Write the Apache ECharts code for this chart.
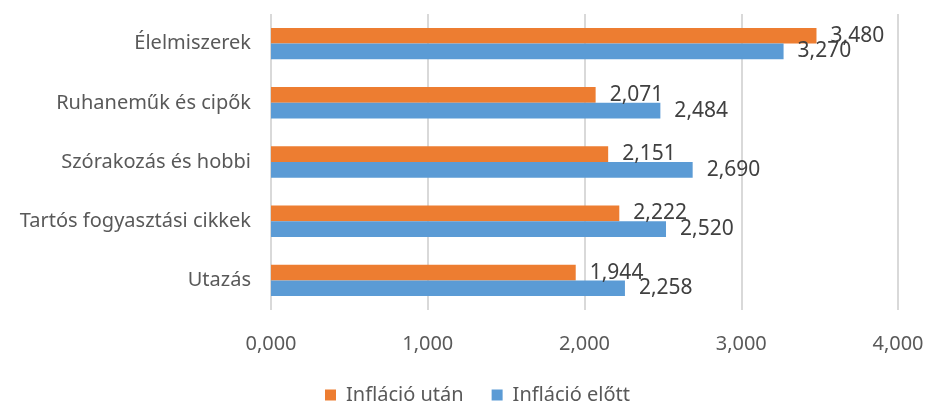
<!DOCTYPE html>
<html>
<head>
<meta charset="utf-8">
<script src="https://cdn.jsdelivr.net/npm/echarts@6/dist/echarts.min.js"></script>
<style>
  html, body { margin: 0; padding: 0; background: #fff; }
  #main { width: 927px; height: 405px; }
</style>
</head>
<body>
<div id="main"></div>
<script>
// kategóriák felülről lefelé
var categories = ["Élelmiszerek", "Ruhaneműk és cipők", "Szórakozás és hobbi", "Tartós fogyasztási cikkek", "Utazás"];
var inflacioUtan = [3.480, 2.071, 2.151, 2.222, 1.944];
var inflacioElott = [3.270, 2.484, 2.690, 2.520, 2.258];
var xTicks = [0, 1, 2, 3, 4];

function fmt(v) { return Number(v).toFixed(3).replace(".", ","); }

var font = "Noto Sans";
var txt = "#595959";

var myChart = echarts.init(document.getElementById("main"));
myChart.setOption({
  animation: false,
  textStyle: { fontFamily: font },
  grid: { left: 271, right: 29, top: 14, bottom: 95 },
  legend: {
    top: 380,
    left: 320,
    itemWidth: 11,
    itemHeight: 11,
    itemGap: 28,
    icon: "rect",
    textStyle: { fontFamily: font, fontSize: 20, color: txt, padding: [0, 0, 0, 5] },
    data: ["Infláció után", "Infláció előtt"]
  },
  xAxis: {
    type: "value",
    min: xTicks[0],
    max: xTicks[xTicks.length - 1],
    interval: 1,
    axisLine: { show: false },
    axisTick: { show: false },
    splitLine: { lineStyle: { color: "#d9d9d9", width: 2 } },
    axisLabel: { formatter: fmt, fontSize: 20, color: txt, margin: 24 }
  },
  yAxis: {
    type: "category",
    inverse: true,
    data: categories,
    axisLine: { show: false },
    axisTick: { show: false },
    axisLabel: { fontSize: 20, color: txt, margin: 20 }
  },
  series: [
    {
      name: "Infláció után",
      type: "bar",
      data: inflacioUtan,
      barGap: "0%",
      barCategoryGap: "47%",
      itemStyle: { color: "#ED7D31" },
      label: { show: true, position: "right", distance: 14, formatter: function (p) { return fmt(p.value); }, fontSize: 21, color: "#404040" }
    },
    {
      name: "Infláció előtt",
      type: "bar",
      data: inflacioElott,
      barGap: "0%",
      barCategoryGap: "47%",
      itemStyle: { color: "#5B9BD5" },
      label: { show: true, position: "right", distance: 14, formatter: function (p) { return fmt(p.value); }, fontSize: 21, color: "#404040" }
    }
  ]
});
</script>
</body>
</html>
